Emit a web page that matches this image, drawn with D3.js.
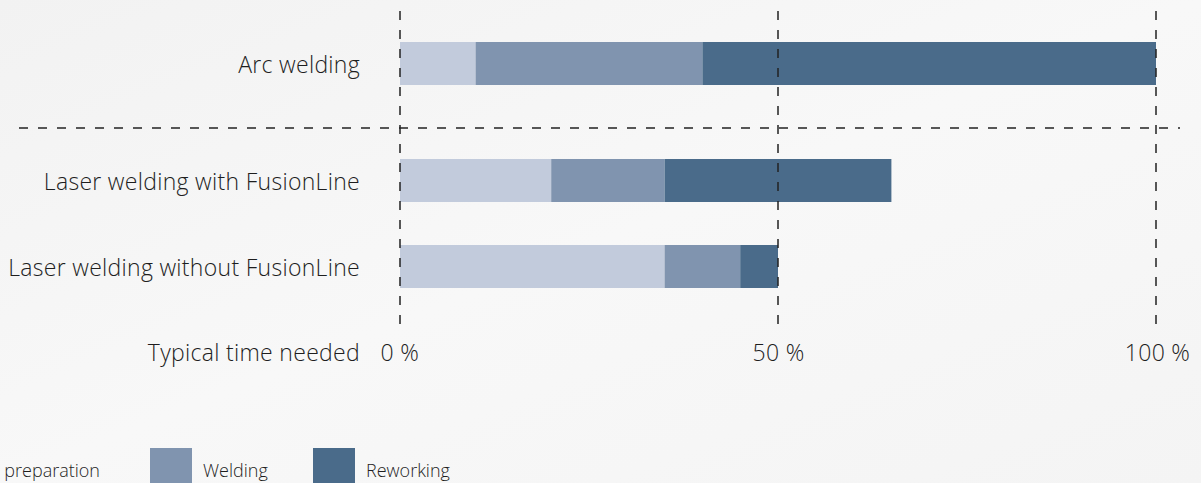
<!DOCTYPE html>
<html>
<head>
<meta charset="utf-8">
<script src="https://cdn.jsdelivr.net/npm/d3@7"></script>
<style>
  body { margin: 0; background: #f5f5f5; overflow: hidden; }
  text { font-family: "Open Sans", "Noto Sans", sans-serif; font-weight: 350; fill: #1e1e1e; }
</style>
</head>
<body>
<div id="chart"></div>
<script>
    // data
    var categories = ['Arc welding', 'Laser welding with FusionLine', 'Laser welding without FusionLine'];
    var seriesNames = ['Setup preparation', 'Welding', 'Reworking'];
    var preparation = [10, 20, 35];
    var welding = [30, 15, 10];
    var reworking = [60, 30, 5];
    var tickValues = [0, 50, 100];
    var tickLabels = ['0 %', '50 %', '100 %'];
    var axisTitle = 'Typical time needed';

    var width = 1201, height = 483;
    var colors = ['#c2cbdc', '#8094af', '#4a6b8a'];

    var svg = d3.select('#chart').append('svg')
        .attr('width', width)
        .attr('height', height);

    // faint background
    var defs = svg.append('defs');
    var grad = defs.append('linearGradient').attr('id', 'bg')
        .attr('x1', 0).attr('y1', 0).attr('x2', 1).attr('y2', 1);
    grad.append('stop').attr('offset', '0%').attr('stop-color', '#f2f2f2');
    grad.append('stop').attr('offset', '50%').attr('stop-color', '#f8f8f8');
    grad.append('stop').attr('offset', '100%').attr('stop-color', '#f4f4f4');
    svg.append('rect').attr('width', width).attr('height', height).attr('fill', 'url(#bg)');

    var x = d3.scaleLinear().domain([0, 100]).range([400, 1156]);
    // first bar sits above the separator, the other two share a band scale
    var y = d3.scaleBand().domain(categories.slice(1)).range([137.5, 309.5]).paddingInner(0.5).paddingOuter(0.25);
    var barH = y.bandwidth();
    function barY(c, i) { return i === 0 ? 42 : y(c); }

    // stacked data
    var rows = categories.map(function(c, i) {
        return { cat: c, idx: i, vals: [preparation[i], welding[i], reworking[i]] };
    });
    var stack = d3.stack().keys([0, 1, 2]).value(function(d, k) { return d.vals[k]; });
    var layers = stack(rows);

    var g = svg.append('g');
    g.selectAll('g.layer')
        .data(layers)
        .enter().append('g')
        .attr('class', 'layer')
        .attr('fill', function(d, i) { return colors[i]; })
        .selectAll('rect')
        .data(function(d) { return d; })
        .enter().append('rect')
        .attr('x', function(d) { return x(d[0]); })
        .attr('width', function(d) { return x(d[1]) - x(d[0]); })
        .attr('y', function(d) { return barY(d.data.cat, d.data.idx); })
        .attr('height', barH);

    // dashed grid on top
    svg.selectAll('line.grid')
        .data(tickValues)
        .enter().append('line')
        .attr('class', 'grid')
        .attr('x1', function(d) { return x(d); })
        .attr('x2', function(d) { return x(d); })
        .attr('y1', 11).attr('y2', 333)
        .attr('stroke', '#222')
        .attr('stroke-width', 1.5)
        .attr('stroke-dasharray', '9,10');

    svg.append('line')
        .attr('x1', 19).attr('x2', 1180)
        .attr('y1', 128).attr('y2', 128)
        .attr('stroke', '#222')
        .attr('stroke-width', 1.5)
        .attr('stroke-dasharray', '9,10');

    // category labels
    svg.selectAll('text.cat')
        .data(categories)
        .enter().append('text')
        .attr('class', 'cat')
        .attr('x', 360)
        .attr('y', function(d, i) { return barY(d, i) + barH / 2 + 9.5; })
        .attr('text-anchor', 'end')
        .style('font-size', '23px')
        .style('letter-spacing', '0.3px')
        .text(function(d) { return d; });

    // axis
    var axis = d3.axisBottom(x).tickValues(tickValues)
        .tickFormat(function(d, i) { return tickLabels[i]; })
        .tickSize(0).tickPadding(0);
    var ax = svg.append('g').attr('transform', 'translate(0,345)').call(axis);
    ax.select('.domain').remove();
    ax.selectAll('text')
        .attr('dy', 0).attr('y', 16)
        .style('font-size', '23px')
        .style('letter-spacing', '0.3px')
        .style('font-family', '"Open Sans", "Noto Sans", sans-serif')
        .style('font-weight', 350)
        .attr('fill', '#1e1e1e')
        .attr('text-anchor', function(d, i) { return i === 0 ? 'start' : 'middle'; })
        .attr('x', function(d, i) { return i === 0 ? -20 : (i === 2 ? 1 : 0); });

    svg.append('text')
        .attr('x', 360).attr('y', 361)
        .attr('text-anchor', 'end')
        .style('font-size', '23px')
        .style('letter-spacing', '0.3px')
        .text(axisTitle);

    // legend (first item runs off the left edge, as in the source)
    var legX = [-95, 150, 313];
    var leg = svg.selectAll('g.leg')
        .data(seriesNames)
        .enter().append('g')
        .attr('class', 'leg')
        .attr('transform', function(d, i) { return 'translate(' + legX[i] + ',448)'; });
    leg.append('rect').attr('width', 42).attr('height', 40)
        .attr('fill', function(d, i) { return colors[i]; });
    leg.append('text')
        .attr('x', function(d, i) { return i === 0 ? 195 : 53; })
        .attr('y', 29)
        .attr('text-anchor', function(d, i) { return i === 0 ? 'end' : 'start'; })
        .style('font-size', '18px')
        .text(function(d) { return d; });
</script>
</body>
</html>
